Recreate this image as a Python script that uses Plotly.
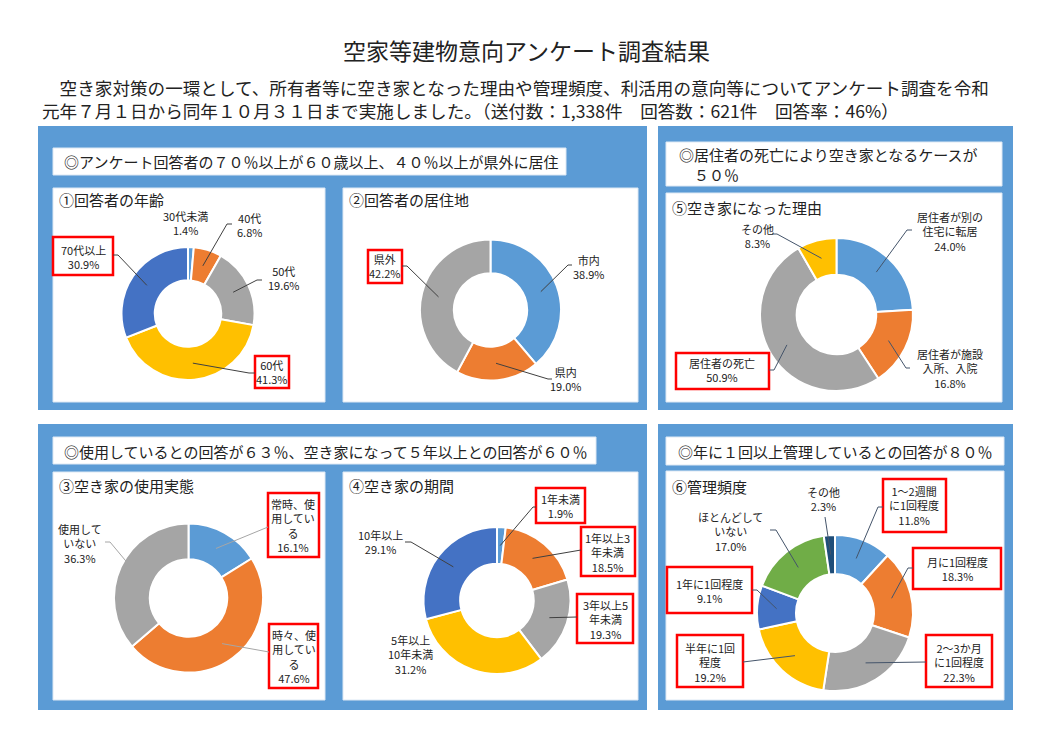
import math
import plotly.graph_objects as go

W, H = 1052, 744

# ---------------- data ----------------
age_labels = ['30代未満', '40代', '50代', '60代', '70代以上']
age_values = [1.4, 6.8, 19.6, 41.3, 30.9]

res_labels = ['市内', '県内', '県外']
res_values = [38.9, 19.0, 42.2]

reason_labels = ['居住者が別の住宅に転居', '居住者が施設入所、入院', '居住者の死亡', 'その他']
reason_disp = ['居住者が別の<br>住宅に転居', '居住者が施設<br>入所、入院', '居住者の死亡', 'その他']
reason_values = [24.0, 16.8, 50.9, 8.3]

use_labels = ['常時、使用している', '時々、使用している', '使用していない']
use_disp = ['常時、使<br>用してい<br>る', '時々、使<br>用してい<br>る', '使用して<br>いない']
use_values = [16.1, 47.6, 36.3]

period_labels = ['1年未満', '1年以上3年未満', '3年以上5年未満', '5年以上10年未満', '10年以上']
period_disp = ['1年未満', '1年以上3<br>年未満', '3年以上5<br>年未満', '5年以上<br>10年未満', '10年以上']
period_values = [1.9, 18.5, 19.3, 31.2, 29.1]

mgmt_labels = ['1～2週間に1回程度', '月に1回程度', '2～3か月に1回程度', '半年に1回程度',
               '1年に1回程度', 'ほとんどしていない', 'その他']
mgmt_disp = ['1～2週間<br>に1回程度', '月に1回程度', '2～3か月<br>に1回程度', '半年に1回<br>程度',
             '1年に1回程度', 'ほとんどして<br>いない', 'その他']
mgmt_values = [11.8, 18.3, 22.3, 19.2, 9.1, 17.0, 2.3]

TITLE = '空家等建物意向アンケート調査結果'
SUB1 = '　空き家対策の一環として、所有者等に空き家となった理由や管理頻度、利活用の意向等についてアンケート調査を令和'
SUB2 = '元年７月１日から同年１０月３１日まで実施しました。（送付数：1,338件　回答数：621件　回答率：46%）'
HEAD1 = '◎アンケート回答者の７０％以上が６０歳以上、４０％以上が県外に居住'
HEAD2 = '◎居住者の死亡により空き家となるケースが<br>　５０％'
HEAD3 = '◎使用しているとの回答が６３％、空き家になって５年以上との回答が６０％'
HEAD4 = '◎年に１回以上管理しているとの回答が８０％'
SUBT = ['①回答者の年齢', '②回答者の居住地', '③空き家の使用実態', '④空き家の期間', '⑤空き家になった理由', '⑥管理頻度']

# ---------------- style ----------------
C_LB, C_OR, C_GR, C_YE, C_DB, C_GN, C_NV = '#5B9BD5', '#ED7D31', '#A5A5A5', '#FFC000', '#4472C4', '#70AD47', '#1F4E79'
PANEL = '#5B9BD5'
FONT = 'Noto Sans CJK JP'
RED = '#FF0000'


def X(x):
    return x / W


def Y(y):
    return 1 - y / H


fig = go.Figure()
shapes = []
annos = []


def rect(x0, y0, x1, y1, fill, line=None, lw=0, layer='below'):
    shapes.append(dict(type='rect', xref='paper', yref='paper', x0=X(x0), x1=X(x1), y0=Y(y1), y1=Y(y0),
                       fillcolor=fill, line=dict(color=line or fill, width=lw), layer=layer))


def text(x, y, t, size=11, xanchor='center', yanchor='middle', align='center', color='#222222'):
    annos.append(dict(x=X(x), y=Y(y), xref='paper', yref='paper', text=t, showarrow=False,
                      xanchor=xanchor, yanchor=yanchor, align=align,
                      font=dict(family=FONT, size=size, color=color)))


# panels
rect(38, 126, 647, 410, PANEL)
rect(658, 126, 1013, 410, PANEL)
rect(38, 424, 647, 710, PANEL)
rect(658, 424, 1013, 710, PANEL)
# white boxes
for b in [(53, 148, 566, 175), (53, 188, 325, 402), (343, 188, 638, 402),
          (666, 142, 1002, 186), (666, 193, 1002, 402),
          (53, 437, 596, 464), (53, 472, 325, 700), (343, 472, 638, 700),
          (666, 437, 1004, 465), (666, 471, 1004, 700)]:
    rect(*b, '#FFFFFF', line='#DDE8F4', lw=1)

# titles
text(526, 50, TITLE, size=23)
text(40, 99, SUB1 + '<br>' + SUB2, size=17.6, xanchor='left', align='left')
text(62, 161, HEAD1, size=15, xanchor='left')
text(677, 164, HEAD2, size=15, xanchor='left', align='left')
text(62, 451, HEAD3, size=15, xanchor='left')
text(676, 451, HEAD4, size=15, xanchor='left')
for t, (x, y) in zip(SUBT, [(57, 199), (347, 199), (57, 485), (347, 485), (670, 208), (670, 486)]):
    text(x, y, t, size=15, xanchor='left')


def donut(labels, values, colors, cx, cy, r, hole, specs, lc='#404040', disp=None):
    fig.add_trace(go.Pie(
        labels=labels, values=values, sort=False, direction='clockwise', rotation=0,
        hole=hole, textinfo='none', hoverinfo='label+percent', showlegend=False,
        marker=dict(colors=colors, line=dict(color='#FFFFFF', width=2)),
        domain=dict(x=[X(cx - r), X(cx + r)], y=[Y(cy + r), Y(cy - r)])))
    disp = disp or labels
    total = sum(values)
    cum = 0
    rm = r * (1 + hole) / 2
    for i, v in enumerate(values):
        ang = 2 * math.pi * (cum + v / 2) / total
        cum += v
        sp = specs[i]
        tx, ty, box, anchor = sp
        if box:
            rect(*box, '#FFFFFF', line=RED, lw=2.5, layer='above')
        text(tx, ty, f'{disp[i]}<br>{v:.1f}%', size=11)
        if anchor:
            ax, ay, dx = anchor
            px = cx + rm * math.sin(ang)
            py = cy - rm * math.cos(ang)
            path = f'M {X(ax)},{Y(ay)} L {X(ax + dx)},{Y(ay)} L {X(px)},{Y(py)}'
            shapes.append(dict(type='path', xref='paper', yref='paper', path=path,
                               line=dict(color=lc, width=1), layer='above'))


# ① age
donut(age_labels, age_values, [C_LB, C_OR, C_GR, C_YE, C_DB], 188, 313.5, 66.5, 0.5, [
    (185, 222.5, None, None),
    (249, 224.5, None, (232, 224, -5)),
    (284, 278.5, None, (262, 280, -5)),
    (272, 372, (255, 356, 289, 388), (255, 373, -6)),
    (83, 257, (53, 237, 113, 275), (113, 255, 5)),
])
# ② residence
donut(res_labels, res_values, [C_LB, C_OR, C_GR], 490.5, 310, 70.5, 0.52, [
    (589, 267, None, (572, 265, -4)),
    (566, 379, None, (552, 379, -4)),
    (385, 266.5, (368, 250, 402, 283), (402, 266, 5)),
])
# ⑤ reason
donut(reason_labels, reason_values, [C_LB, C_OR, C_GR, C_YE], 836.5, 314.5, 76.5, 0.52, [
    (950, 231, None, (912, 230, -5)),
    (950, 368, None, (910, 368, -4)),
    (722, 370, (676, 353, 769, 389), (769, 370, 5)),
    (757, 235.5, None, (772, 234, 5)),
], lc='#44546A', disp=reason_disp)
# ③ use
donut(use_labels, use_values, [C_LB, C_OR, C_GR], 188.5, 598, 74.5, 0.52, [
    (293, 525, (268, 493, 319, 557), (268, 527, 0)),
    (293.5, 656, (269, 624, 318, 688), (269, 652, 0)),
    (80, 543, None, (105, 542, 5)),
], lc='#A6A6A6', disp=use_disp)
# ④ period
donut(period_labels, period_values, [C_LB, C_OR, C_GR, C_YE, C_DB], 497, 600.5, 73.5, 0.5, [
    (560, 506, (536, 488, 585, 523), (536, 507, -3)),
    (608, 552, (581, 527, 635, 576), (581, 550, 0)),
    (605, 619, (577, 594, 633, 643), (577, 617, 0)),
    (410, 654, None, None),
    (380, 542, None, (405, 542, 6)),
], disp=period_disp)
# ⑥ management
donut(mgmt_labels, mgmt_values, [C_LB, C_OR, C_GR, C_YE, C_DB, C_GN, C_NV], 835, 613, 78, 0.5, [
    (914, 506, (883, 479, 946, 532), (883, 507, -5)),
    (957, 569, (913, 548, 1001, 589), (913, 568, -5)),
    (959, 662, (926, 635, 992, 687), (926, 662, 0)),
    (710, 662, (677, 635, 743, 687), (743, 662, 0)),
    (709.5, 591, (667, 567, 752, 613), (752, 590, 5)),
    (730, 531, None, (770, 530, 6)),
    (823, 499, None, (825, 517, 0)),
], lc='#44546A', disp=mgmt_disp)

fig.update_layout(width=W, height=H, margin=dict(l=0, r=0, t=0, b=0),
                  paper_bgcolor='#FFFFFF', plot_bgcolor='#FFFFFF',
                  shapes=shapes, annotations=annos, font=dict(family=FONT))
fig.write_html('out.html', config={'displayModeBar': False},
               post_script="document.body.style.margin='0px';document.body.style.overflow='hidden';")
